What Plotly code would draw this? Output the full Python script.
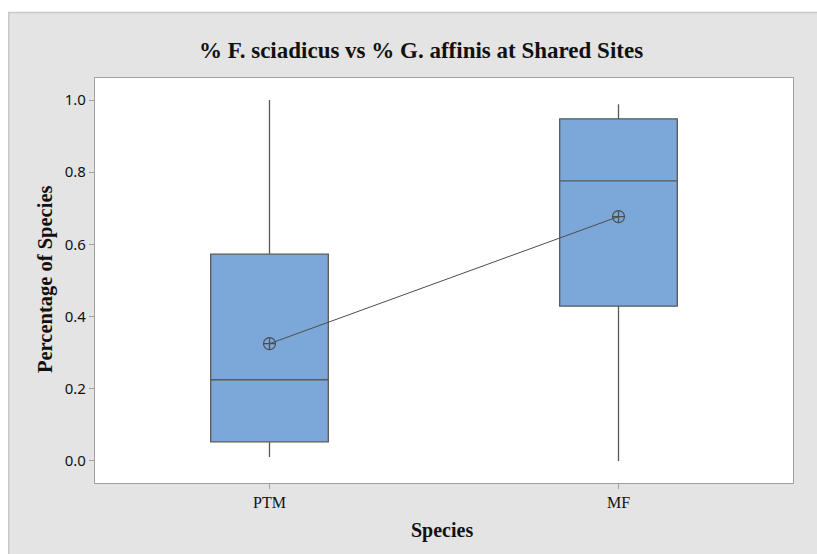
import plotly.graph_objects as go

categories = ["PTM", "MF"]
lower_whisker = [0.011, 0.0]
q1 = [0.053, 0.429]
median = [0.225, 0.776]
q3 = [0.573, 0.948]
upper_whisker = [1.0, 0.988]
means = [0.325, 0.677]
y_ticks = [0.0, 0.2, 0.4, 0.6, 0.8, 1.0]

W, H = 817, 554
L, R, T, B = 95, 793, 78, 483
pw, ph = R - L, B - T


def px(x):
    return (x - L) / pw


def py(y):
    return (B - y) / ph


fig = go.Figure()
fig.add_trace(go.Box(
    x=categories,
    q1=q1, median=median, q3=q3,
    lowerfence=lower_whisker, upperfence=upper_whisker,
    fillcolor="#7BA7D9",
    line=dict(color="#595959", width=1.3),
    whiskerwidth=0,
    width=0.337,
    boxpoints=False,
    showlegend=False,
    hoverinfo="skip",
))
fig.add_trace(go.Scatter(
    x=categories, y=means,
    mode="lines+markers",
    line=dict(color="#4d4d4d", width=1),
    marker=dict(symbol="circle-cross-open", size=12,
                color="#4d4d4d", line=dict(width=1.2, color="#4d4d4d")),
    showlegend=False,
    hoverinfo="skip",
))

shapes = [
    # white strips above and left of the gray panel
    dict(type="rect", xref="paper", yref="paper", layer="below",
         x0=px(0), x1=px(W), y0=py(12), y1=py(0),
         fillcolor="white", line=dict(width=0)),
    dict(type="rect", xref="paper", yref="paper", layer="below",
         x0=px(0), x1=px(8), y0=py(H), y1=py(0),
         fillcolor="white", line=dict(width=0)),
    # panel borders (top and left)
    dict(type="line", xref="paper", yref="paper", layer="below",
         x0=px(8), x1=px(W), y0=py(12.5), y1=py(12.5),
         line=dict(color="#C8C8C8", width=1.5)),
    dict(type="line", xref="paper", yref="paper", layer="below",
         x0=px(8.75), x1=px(8.75), y0=py(12.5), y1=py(H),
         line=dict(color="#C8C8C8", width=1.5)),
    # white plot area
    dict(type="rect", xref="paper", yref="paper", layer="below",
         x0=0, x1=1, y0=0, y1=1,
         fillcolor="white", line=dict(width=0)),
]

serif = "Liberation Serif"
annotations = [
    dict(text="<b>% F. sciadicus vs % G. affinis at Shared Sites</b>",
         xref="paper", yref="paper", x=px(421), y=py(50),
         xanchor="center", yanchor="middle", showarrow=False,
         font=dict(family=serif, size=23, color="#111111")),
    dict(text="<b>Species</b>",
         xref="paper", yref="paper", x=px(442), y=py(530),
         xanchor="center", yanchor="middle", showarrow=False,
         font=dict(family=serif, size=20, color="#111111")),
    dict(text="<b>Percentage of Species</b>",
         xref="paper", yref="paper", x=px(45), y=py(280),
         xanchor="center", yanchor="middle", showarrow=False, textangle=-90,
         font=dict(family=serif, size=20.5, color="#111111")),
]

fig.update_layout(
    width=W, height=H,
    margin=dict(l=L, r=W - R, t=T, b=H - B),
    paper_bgcolor="#E4E4E4",
    plot_bgcolor="white",
    shapes=shapes,
    annotations=annotations,
    xaxis=dict(
        type="category",
        range=[-0.5, 1.5],
        showline=True, mirror=True, linecolor="#A0A0A0", linewidth=1.3,
        ticks="outside", ticklen=5, tickcolor="#A0A0A0",
        showgrid=False, zeroline=False,
        tickfont=dict(family=serif, size=16, color="#111111"),
    ),
    yaxis=dict(
        range=[-0.061, 1.061],
        tickvals=y_ticks,
        tickformat=".1f",
        showline=True, mirror=True, linecolor="#A0A0A0", linewidth=1.3,
        ticks="outside", ticklen=5, tickcolor="#A0A0A0",
        showgrid=False, zeroline=False,
        tickfont=dict(family="Noto Sans", size=15, color="#111111"),
    ),
)

fig.write_html(
    "out.html",
    config={"displayModeBar": False},
    post_script="document.body.style.margin='0';"
                "document.body.style.overflow='hidden';",
)
